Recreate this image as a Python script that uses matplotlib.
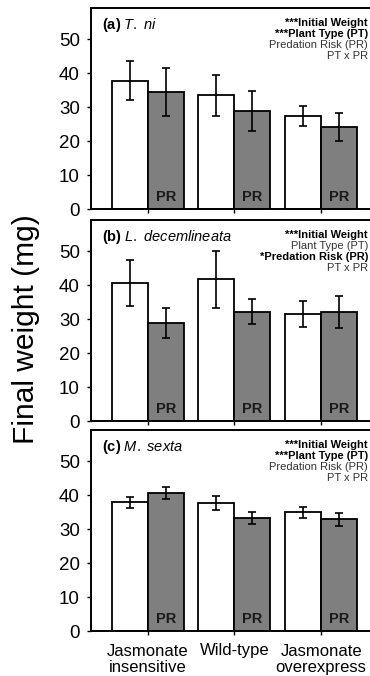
import numpy as np
import matplotlib
matplotlib.use("Agg")
import matplotlib.pyplot as plt

plt.rcParams['font.family'] = ['Liberation Sans', 'DejaVu Sans']
plt.rcParams['mathtext.fontset'] = 'custom'
plt.rcParams['mathtext.rm'] = 'Liberation Sans'
plt.rcParams['mathtext.it'] = 'Liberation Sans:italic'
plt.rcParams['mathtext.bf'] = 'Liberation Sans:bold'

categories = ["Jasmonate\ninsensitive", "Wild-type", "Jasmonate\noverexpress"]

# (a) T. ni
tni_ctrl = [37.8, 33.5, 27.4]
tni_ctrl_err = [5.8, 6.0, 3.0]
tni_pr = [34.5, 28.9, 24.3]
tni_pr_err = [7.0, 6.0, 4.1]

# (b) L. decemlineata
ld_ctrl = [40.6, 41.7, 31.5]
ld_ctrl_err = [6.8, 8.3, 3.9]
ld_pr = [28.8, 32.2, 32.0]
ld_pr_err = [4.5, 3.7, 4.7]

# (c) M. sexta
ms_ctrl = [37.9, 37.7, 35.0]
ms_ctrl_err = [1.7, 2.1, 1.6]
ms_pr = [40.6, 33.3, 32.9]
ms_pr_err = [1.8, 1.7, 2.0]

titles = [r"$\bf{(a)}$ $\it{T.\ ni}$",
          r"$\bf{(b)}$ $\it{L.\ decemlineata}$",
          r"$\bf{(c)}$ $\it{M.\ sexta}$"]

stats = [
    [("***Initial Weight", True), ("***Plant Type (PT)", True),
     ("Predation Risk (PR)", False), ("PT x PR", False)],
    [("***Initial Weight", True), ("Plant Type (PT)", False),
     ("*Predation Risk (PR)", True), ("PT x PR", False)],
    [("***Initial Weight", True), ("***Plant Type (PT)", True),
     ("Predation Risk (PR)", False), ("PT x PR", False)],
]

panels = [(tni_ctrl, tni_ctrl_err, tni_pr, tni_pr_err),
          (ld_ctrl, ld_ctrl_err, ld_pr, ld_pr_err),
          (ms_ctrl, ms_ctrl_err, ms_pr, ms_pr_err)]

fig = plt.figure(figsize=(3.7, 6.76), dpi=100)
W, H = 370, 676
left_px, right_px = 91, 377.8
tops = [8, 220, 430]
bottoms = [209.3, 421, 631]

x = np.arange(len(categories))
w = 0.415
ekw = dict(elinewidth=1.2, capsize=3, capthick=1.2, ecolor="black")

for i, (ctrl, ctrl_err, pr, pr_err) in enumerate(panels):
    ax = fig.add_axes([left_px / W, 1 - bottoms[i] / H,
                       (right_px - left_px) / W, (bottoms[i] - tops[i]) / H])
    ax.bar(x - w / 2, ctrl, w, color="white", edgecolor="black", linewidth=1.3,
           yerr=ctrl_err, error_kw=ekw)
    ax.bar(x + w / 2, pr, w, color="#7f7f7f", edgecolor="black", linewidth=1.3,
           yerr=pr_err, error_kw=ekw)
    for xi in x:
        ax.text(xi + w / 2, 3.6, "PR", ha="center", va="center",
                fontsize=10.5, fontweight="bold", color="#1a1a1a")

    ax.set_xlim(-0.654, 2.654)
    ax.set_ylim(0, 59.2)
    ax.set_yticks(range(0, 51, 10))
    ax.set_xticks(x)
    if i == 2:
        ax.set_xticklabels(categories, fontsize=12, linespacing=1.15)
    else:
        ax.set_xticklabels([])
    ax.tick_params(axis="y", direction="out", length=3, width=1, labelsize=13.5, pad=5)
    ax.tick_params(axis="x", direction="out", length=3, width=1, pad=6)
    for s in ax.spines.values():
        s.set_linewidth(1.4)

    ax.text(0.038, 0.916, titles[i], transform=ax.transAxes, fontsize=10.5,
            ha="left", va="center")
    ys = [0.925, 0.871, 0.816, 0.762]
    xr = (368 - left_px) / (right_px - left_px)
    for (txt, bold), yy in zip(stats[i], ys):
        ax.text(xr, yy, txt, transform=ax.transAxes, ha="right", va="center",
                fontsize=8, fontweight="bold" if bold else "normal",
                color="black" if bold else "#333333")

fig.text(26 / W, 1 - 329 / H, "Final weight (mg)", rotation=90,
         ha="center", va="center", fontsize=21.5)

plt.savefig("out.png", dpi=100)
